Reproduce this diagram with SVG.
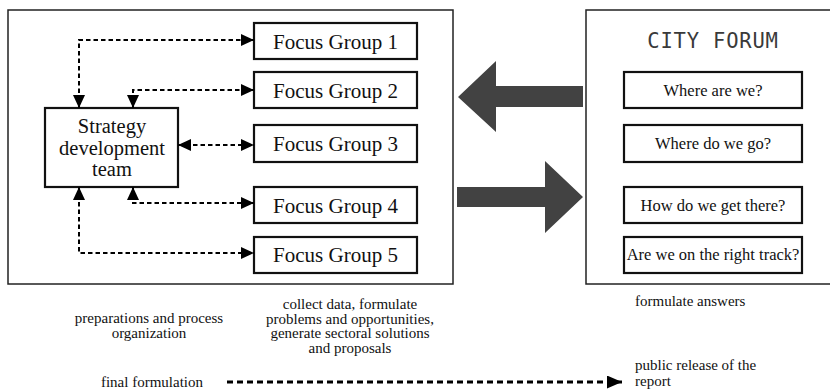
<svg xmlns="http://www.w3.org/2000/svg" width="830" height="390" viewBox="0 0 830 390">
<style>
.frame{fill:#fff;stroke:#222;stroke-width:1.5}
.box{fill:#fff;stroke:#111;stroke-width:2.2}
.con{fill:none;stroke:#000;stroke-width:2;stroke-dasharray:4.5,3}
.big{fill:#424242}
</style>
<defs>
<marker id="ah" markerUnits="userSpaceOnUse" markerWidth="13" markerHeight="12" refX="13" refY="6" orient="auto-start-reverse" viewBox="0 0 13 12">
<path d="M0,0 L13,6 L0,12 z" fill="#000"/>
</marker>
<marker id="ah2" markerUnits="userSpaceOnUse" markerWidth="15" markerHeight="13" refX="15" refY="6.5" orient="auto" viewBox="0 0 15 13">
<path d="M0,0 L15,6.5 L0,13 z" fill="#000"/>
</marker>
</defs>
<rect width="830" height="390" fill="#fff"/>
<g font-family="Liberation Serif, Times New Roman, serif" fill="#111">
<g id="left-panel"><rect class="frame" x="8" y="10" width="445" height="274"/></g>
<g id="city-forum-panel"><rect class="frame" x="586" y="10" width="250" height="274"/>
<text x="713" y="48" font-family="DejaVu Sans Mono, Liberation Mono, monospace" font-size="20.5" fill="#3a3a3a" text-anchor="middle" letter-spacing="0.8">CITY FORUM</text></g>
<g id="strategy" font-size="20.5" text-anchor="middle"><rect class="box" x="45" y="108" width="133" height="79"/>
<text x="112" y="133">Strategy</text>
<text x="112" y="154.5">development</text>
<text x="112" y="176">team</text></g>
<g id="fg1" font-size="21" text-anchor="middle"><rect class="box" x="254" y="23" width="163" height="36"/><text x="335.5" y="48.5">Focus Group 1</text></g>
<g id="fg2" font-size="21" text-anchor="middle"><rect class="box" x="254" y="72" width="163" height="36"/><text x="335.5" y="97.5">Focus Group 2</text></g>
<g id="fg3" font-size="21" text-anchor="middle"><rect class="box" x="254" y="125" width="163" height="37"/><text x="335.5" y="151">Focus Group 3</text></g>
<g id="fg4" font-size="21" text-anchor="middle"><rect class="box" x="254" y="187" width="163" height="36"/><text x="335.5" y="212.5">Focus Group 4</text></g>
<g id="fg5" font-size="21" text-anchor="middle"><rect class="box" x="254" y="237" width="163" height="36"/><text x="335.5" y="262">Focus Group 5</text></g>
<g id="q1" font-size="16.5" text-anchor="middle"><rect class="box" x="624" y="72" width="178" height="36"/><text x="713" y="95.5">Where are we?</text></g>
<g id="q2" font-size="16.5" text-anchor="middle"><rect class="box" x="624" y="125" width="178" height="37"/><text x="713" y="148.5">Where do we go?</text></g>
<g id="q3" font-size="16.5" text-anchor="middle"><rect class="box" x="624" y="187" width="178" height="36"/><text x="713" y="211">How do we get there?</text></g>
<g id="q4" font-size="16.5" text-anchor="middle"><rect class="box" x="624" y="237" width="178" height="36"/><text x="713" y="260">Are we on the right track?</text></g>
<g id="connectors">
<path class="con" d="M79,108 V40 H254" marker-start="url(#ah)" marker-end="url(#ah)"/>
<path class="con" d="M133,108 V90 H254" marker-start="url(#ah)" marker-end="url(#ah)"/>
<path class="con" d="M178,145 H254" marker-start="url(#ah)" marker-end="url(#ah)"/>
<path class="con" d="M133,187 V203 H254" marker-start="url(#ah)" marker-end="url(#ah)"/>
<path class="con" d="M79,187 V253 H254" marker-start="url(#ah)" marker-end="url(#ah)"/>
<path class="big" d="M583,86 V107 H496 V132 L458,97 L496,61 V86 z"/>
<path class="big" d="M457,187 H545 V161 L583,197 L545,233 V207 H457 z"/>
<path d="M227,382 H622" fill="none" stroke="#000" stroke-width="3" stroke-dasharray="6,4" marker-end="url(#ah2)"/>
</g>
<g id="labels" font-size="15">
<text x="149" y="323" text-anchor="middle">preparations and process</text>
<text x="149" y="337.5" text-anchor="middle">organization</text>
<text x="350" y="309" text-anchor="middle">collect data, formulate</text>
<text x="350" y="323.5" text-anchor="middle">problems and opportunities,</text>
<text x="350" y="338" text-anchor="middle">generate sectoral solutions</text>
<text x="350" y="352.5" text-anchor="middle">and proposals</text>
<text x="635" y="306">formulate answers</text>
<text x="635" y="370">public release of the</text>
<text x="635" y="385.5">report</text>
<text x="203" y="386.5" text-anchor="end">final formulation</text>
</g>
</g>
</svg>
